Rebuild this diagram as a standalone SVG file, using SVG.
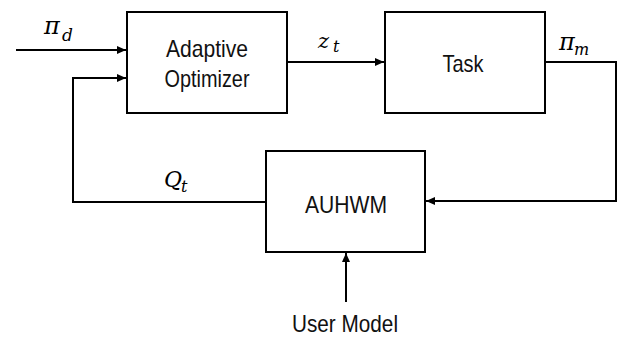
<svg xmlns="http://www.w3.org/2000/svg" width="626" height="337" viewBox="0 0 626 337">
<style>
.box{fill:#fff;stroke:#000;stroke-width:2}
.lbl{font-family:"Liberation Sans",Arial,sans-serif;font-size:24px;fill:#111;text-anchor:middle}
.math{font-family:"DejaVu Serif","Liberation Serif",serif;font-style:italic;fill:#000}
.wire{fill:none;stroke:#000;stroke-width:2}
</style>
<defs>
<marker id="ah" markerWidth="10" markerHeight="8" refX="9" refY="4" orient="auto" markerUnits="userSpaceOnUse">
<path d="M0,0 L9,4 L0,8 Z" fill="#000"/>
</marker>
</defs>
<g id="connectors">
<path class="wire" d="M16,50 H126" marker-end="url(#ah)"/>
<path class="wire" d="M266,202 H73 V78 H126" marker-end="url(#ah)"/>
<path class="wire" d="M287,62 H384" marker-end="url(#ah)"/>
<path class="wire" d="M545,62 H616 V201 H426" marker-end="url(#ah)"/>
<path class="wire" d="M346,302 V253" marker-end="url(#ah)"/>
<text class="math" x="44" y="34" font-size="24">π</text>
<text class="math" x="62" y="41" font-size="17">d</text>
<text class="math" x="318" y="48" font-size="21">z</text>
<text class="math" x="333" y="52" font-size="16">t</text>
<text class="math" x="559" y="50" font-size="24">π</text>
<text class="math" x="574" y="55" font-size="16">m</text>
<text class="math" x="164" y="187" font-size="22">Q</text>
<text class="math" x="181" y="192" font-size="16">t</text>
</g>
<g id="adaptive-optimizer">
<rect class="box" x="127" y="12" width="160" height="101"/>
<text class="lbl" x="207" y="57" textLength="82" lengthAdjust="spacingAndGlyphs">Adaptive</text>
<text class="lbl" x="207" y="87" textLength="85" lengthAdjust="spacingAndGlyphs">Optimizer</text>
</g>
<g id="task">
<rect class="box" x="385" y="12" width="160" height="101"/>
<text class="lbl" x="463" y="72" textLength="41" lengthAdjust="spacingAndGlyphs">Task</text>
</g>
<g id="auhwm">
<rect class="box" x="266" y="151" width="159" height="101"/>
<text class="lbl" x="346" y="213" textLength="82" lengthAdjust="spacingAndGlyphs">AUHWM</text>
</g>
<g id="user-model">
<text class="lbl" x="345" y="332" textLength="106" lengthAdjust="spacingAndGlyphs">User Model</text>
</g>
</svg>
